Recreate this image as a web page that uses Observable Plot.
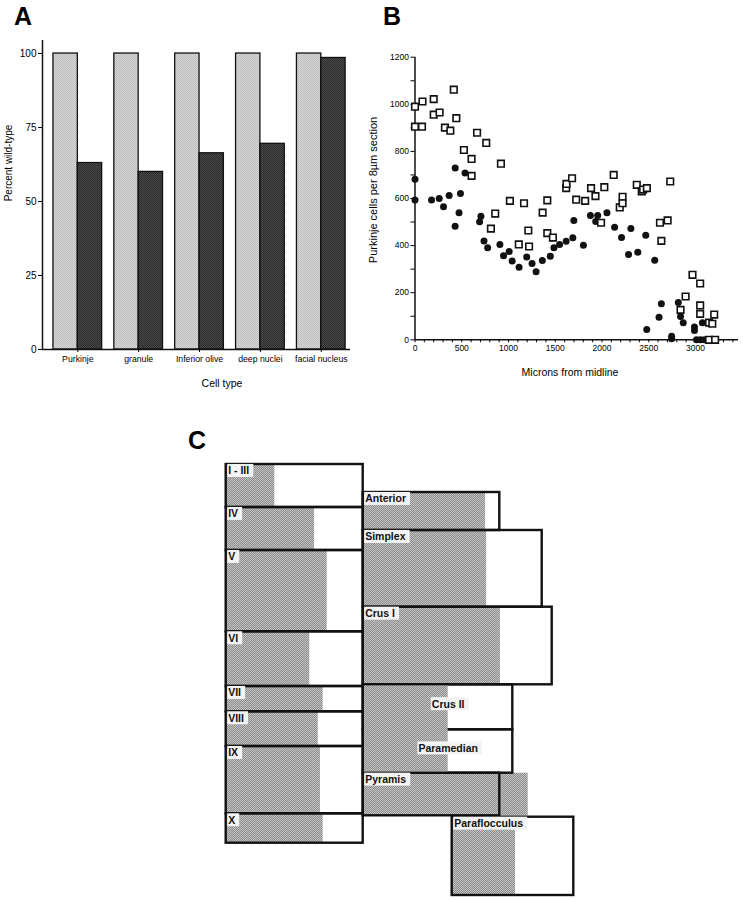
<!DOCTYPE html>
<html>
<head>
<meta charset="utf-8">
<script src="https://cdn.jsdelivr.net/npm/d3@7"></script>
<script src="https://cdn.jsdelivr.net/npm/@observablehq/plot@0.6"></script>
<style>
  body { margin: 0; background: #fff; font-family: "Liberation Sans", Arial, sans-serif; color: #000; }
  #page { position: relative; width: 743px; height: 900px; overflow: hidden; background: #fff; }
  .holder { position: absolute; }
  .panel { position: absolute; font-weight: bold; font-size: 25px; line-height: 1; color: #000; }
  .lab { position: absolute; white-space: nowrap; line-height: 1; color: #000; }
  .rot { transform: translate(-50%, -50%) rotate(-90deg); }
  .ctr { transform: translate(-50%, -50%); }
</style>
</head>
<body>
<div id="page">
  <svg width="0" height="0" style="position:absolute">
    <defs>
      <pattern id="pLight" width="2" height="2" patternUnits="userSpaceOnUse">
        <rect width="2" height="2" fill="#d8d8d8"/>
        <rect width="1" height="1" fill="#bcbcbc"/>
        <rect x="1" y="1" width="1" height="1" fill="#bcbcbc"/>
      </pattern>
      <pattern id="pDark" width="2" height="2" patternUnits="userSpaceOnUse">
        <rect width="2" height="2" fill="#4a4a4a"/>
        <rect width="1" height="1" fill="#2a2a2a"/>
        <rect x="1" y="1" width="1" height="1" fill="#2a2a2a"/>
      </pattern>
      <pattern id="pMid" width="2" height="2" patternUnits="userSpaceOnUse">
        <rect width="2" height="2" fill="#c4c4c4"/>
        <rect width="1" height="1" fill="#8c8c8c"/>
        <rect x="1" y="1" width="1" height="1" fill="#8c8c8c"/>
      </pattern>
    </defs>
  </svg>

  <div class="panel" style="left:14px;top:4px;">A</div>
  <div class="panel" style="left:383px;top:4px;">B</div>
  <div class="panel" style="left:188px;top:428px;">C</div>

  <div class="holder" id="chartA" style="left:0px;top:30px;"></div>
  <div class="holder" id="chartB" style="left:360px;top:40px;"></div>
  <div class="holder" id="chartC" style="left:200px;top:455px;"></div>

  <div class="lab rot" style="left:9px;top:163px;font-size:10px;">Percent wild-type</div>
  <div class="lab ctr" style="left:222px;top:383px;font-size:10.5px;">Cell type</div>
  <div class="lab rot" style="left:373px;top:190px;font-size:11px;">Purkinje cells per 8µm section</div>
  <div class="lab ctr" style="left:570px;top:372px;font-size:10.5px;">Microns from midline</div>
</div>

<script>
// ---------- Panel A data ----------
const cellTypes = ["Purkinje", "granule", "Inferior olive", "deep nuclei", "facial nucleus"];
const wildTypePct = [100, 100, 100, 100, 100];
const mutantPct = [63, 60, 66.3, 69.5, 98.5];
const aTicks = [0, 25, 50, 75, 100];

// ---------- Panel B data ----------
const wtMicrons = [0,0,75,80,200,200,263,320,378,415,442,523,605,605,664,762,858,812,919,1015,1166,1110,1212,1220,1365,1415,1415,1475,1617,1620,1680,1724,1820,1883,1930,1990,2025,2125,2190,2220,2220,2372,2425,2440,2480,2620,2635,2702,2730,2840,2894,2968,3050,3050,3050,3145,3180,3200,3145,3210];
const wtCells   = [990,905,905,1012,1022,956,965,901,888,1062,941,806,768,696,879,836,536,472,748,590,580,405,464,396,540,592,453,434,644,662,686,595,590,644,610,497,648,700,562,607,580,658,630,638,644,497,420,507,672,127,184,276,239,146,110,73,68,107,0,0];
const mutMicrons = [0,0,177,259,305,365,430,429,471,486,535,691,705,738,777,908,947,1007,1039,1113,1195,1252,1295,1362,1447,1486,1546,1617,1688,1699,1801,1876,1933,1954,2053,2135,2209,2284,2309,2383,2468,2479,2564,2610,2635,2745,2745,2816,2840,2869,2989,2989,3011,3053,3074,3096];
const mutCells   = [682,594,594,600,565,613,729,482,539,621,708,501,525,420,391,405,357,375,335,308,352,324,289,337,355,391,405,419,433,507,402,528,502,528,540,478,434,362,473,372,444,44,338,96,153,15,4,158,99,72,54,40,0,0,72,0];
const bXTicks = d3.range(0, 3401, 100);
const bYTicks = d3.range(0, 1201, 100);

// ---------- Panel C data (diagram units) ----------
const cRegions = ["I - III","IV","V","VI","VII","VIII","IX","X","Anterior","Simplex","Crus I","Crus II","Paramedian","Pyramis","Paraflocculus"];
const cLeft    = [0,0,0,0,0,0,0,0,137,137,137,137,137,137,226];
const cSize    = [137,137,137,137,137,137,137,137,136.6,179,189,149.6,149.6,136.6,121.6];
const cTop     = [0,43,86,167.3,222,247.3,282,349.3,28,66,142.7,220.3,265.3,308.7,352.7];
const cBottom  = [43,86,167.3,222,247.3,282,349.3,378.7,66,142.7,220.3,265.3,308.7,351.3,431];
const cPercent = [35.5,64.5,73.7,61.0,70.8,67.2,68.8,70.8,89.5,68.9,72.6,56.8,56.8,120.8,52.1];
const cFillGroup = ["I - III","IV","V","VI","VII","VIII","IX","X","Anterior","Simplex","Crus I","Crus II + Paramedian","Crus II + Paramedian","Pyramis","Paraflocculus"];
const cLabelCentered = ["Crus II", "Paramedian"];

const font = "'Liberation Sans', Arial, Helvetica, sans-serif";

// ---------- Panel A ----------
const barsA = cellTypes.flatMap((c, i) => [
  {i, c, series: "wild-type", v: wildTypePct[i]},
  {i, c, series: "mutant", v: mutantPct[i]}
]);
const aXDomain = [-0.58, 4.48];
const chartA = Plot.plot({
  width: 360, height: 345,
  marginLeft: 42, marginRight: 10, marginTop: 10, marginBottom: 26,
  x: {type: "linear", domain: aXDomain, axis: null},
  y: {domain: [0, 104.4], axis: null},
  style: {fontFamily: font, fontSize: "9px", color: "#000", background: "transparent", overflow: "visible"},
  marks: [
    Plot.rect(barsA, {
      x1: d => d.i + (d.series === "wild-type" ? -0.4 : 0),
      x2: d => d.i + (d.series === "wild-type" ? 0 : 0.4),
      y1: 0, y2: "v",
      fill: d => d.series === "wild-type" ? "url(#pLight)" : "url(#pDark)",
      stroke: "#111", strokeWidth: 1.3
    }),
    Plot.ruleY([0], {stroke: "#111", strokeWidth: 1.5}),
    Plot.ruleX([aXDomain[0]], {stroke: "#111", strokeWidth: 1.5}),
    Plot.axisY(aTicks, {tickSize: 4, tickPadding: 2, fontSize: 10, tickFormat: d => `${d}`, label: null}),
    Plot.axisX(d3.range(cellTypes.length), {tickSize: 3, tickPadding: 3, fontSize: 8.7, tickFormat: i => cellTypes[i], label: null})
  ]
});
document.getElementById("chartA").appendChild(chartA);

// ---------- Panel B ----------
const chartB = Plot.plot({
  width: 383, height: 325,
  marginLeft: 54.5, marginRight: 5, marginTop: 16.7, marginBottom: 25.7,
  x: {domain: [0, 3460], axis: null},
  y: {domain: [0, 1200], axis: null},
  style: {fontFamily: font, fontSize: "8.5px", color: "#000", background: "transparent", overflow: "visible"},
  marks: [
    Plot.ruleY([0], {stroke: "#111", strokeWidth: 1.5}),
    Plot.ruleX([0], {stroke: "#111", strokeWidth: 1.5}),
    Plot.axisX(bXTicks, {tickSize: 3, tickPadding: 2, fontSize: 8.5, tickFormat: d => d % 500 === 0 ? `${d}` : "", label: null}),
    Plot.axisY(bYTicks, {tickSize: 4, tickPadding: 2, fontSize: 8.5, tickFormat: d => d % 200 === 0 ? `${d}` : "", label: null}),
    Plot.dot(d3.range(mutMicrons.length), {x: i => mutMicrons[i], y: i => mutCells[i], r: 3.5, fill: "#111", stroke: "none"}),
    Plot.dot(d3.range(wtMicrons.length), {x: i => wtMicrons[i], y: i => wtCells[i], symbol: "square", r: 3.7, fill: "white", stroke: "#111", strokeWidth: 1.6})
  ]
});
document.getElementById("chartB").appendChild(chartB);

// ---------- Panel C ----------
const regionsC = cRegions.map((name, k) => ({
  name, left: cLeft[k], right: cLeft[k] + cSize[k], top: cTop[k], bottom: cBottom[k],
  fillEnd: cLeft[k] + cSize[k] * cPercent[k] / 100, group: cFillGroup[k]
}));
const fillsC = d3.groups(regionsC, d => d.group).map(([g, rows]) => ({
  group: g, merged: rows.length > 1,
  left: rows[0].left, fillEnd: rows[0].fillEnd,
  top: d3.min(rows, d => d.top), bottom: d3.max(rows, d => d.bottom)
}));
const cornerLabels = regionsC.filter(d => !cLabelCentered.includes(d.name));
const centerLabels = regionsC.filter(d => cLabelCentered.includes(d.name));

const chartC = Plot.plot({
  width: 390, height: 445,
  marginLeft: 25.7, marginRight: 14.3, marginTop: 9, marginBottom: 1,
  x: {domain: [0, 350], axis: null},
  y: {domain: [0, 435], axis: null, reverse: true},
  style: {fontFamily: font, background: "transparent", overflow: "visible"},
  marks: [
    Plot.rect(fillsC.filter(d => !d.merged), {x1: "left", x2: "fillEnd", y1: "top", y2: "bottom", fill: "url(#pMid)"}),
    Plot.rect(regionsC, {x1: "left", x2: "right", y1: "top", y2: "bottom", fill: "none", stroke: "#111", strokeWidth: 2.4}),
    Plot.rect(fillsC.filter(d => d.merged), {x1: "left", x2: "fillEnd", y1: "top", y2: "bottom", fill: "url(#pMid)", insetLeft: 1.3, insetTop: 1.3, insetBottom: 1.3}),
    Plot.text(cornerLabels, {x: "left", y: "top", text: "name", textAnchor: "start", lineAnchor: "top", dx: 2, dy: 2.5, fontSize: 10.5, fontWeight: "bold", fill: "#111"}),
    Plot.text(centerLabels, {x: "fillEnd", y: d => (d.top + d.bottom) / 2, text: "name", textAnchor: "middle", lineAnchor: "middle", dy: -3, fontSize: 10.5, fontWeight: "bold", fill: "#111"})
  ]
});
document.getElementById("chartC").appendChild(chartC);

// light label backgrounds behind panel C labels
const ns = "http://www.w3.org/2000/svg";
chartC.querySelectorAll('g[aria-label="text"] text').forEach(t => {
  const b = t.getBBox();
  const r = document.createElementNS(ns, "rect");
  r.setAttribute("x", b.x - 1);
  r.setAttribute("y", b.y - 0.5);
  r.setAttribute("width", b.width + 5);
  r.setAttribute("height", b.height + 1);
  r.setAttribute("fill", "#f3f3f3");
  const tr = t.getAttribute("transform");
  if (tr) r.setAttribute("transform", tr);
  t.parentNode.insertBefore(r, t);
});
</script>
</body>
</html>
